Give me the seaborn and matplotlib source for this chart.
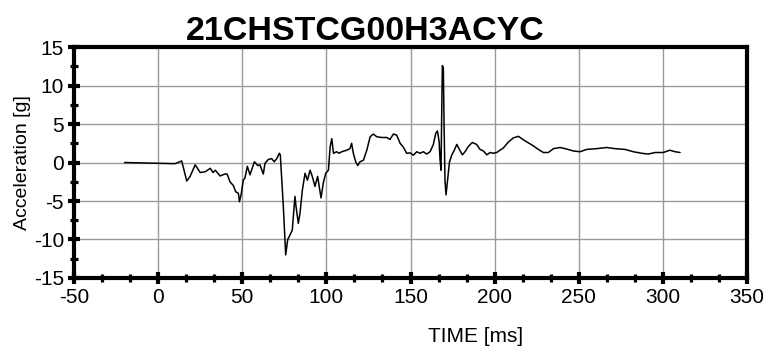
import matplotlib
matplotlib.use("Agg")
import matplotlib.pyplot as plt
from matplotlib.ticker import MultipleLocator
import seaborn as sns
import pandas as pd

title = "21CHSTCG00H3ACYC"
x_label = "TIME [ms]"
y_label = "Acceleration [g]"

time_ms = [-20, 10, 14, 17, 19, 22, 25, 28, 31, 32.6, 34, 36.8, 39.5, 41, 42.7, 44.7, 46.1,
           47.7, 48.3, 49.3, 50.6, 51.6, 53, 54.6, 57.2, 59.2, 60.5, 62.5, 63.5, 65.5, 67.5,
           69, 70.5, 72, 72.6, 74.4, 75.8, 77, 78.4, 79.7, 81.3, 82, 83.3, 84.3, 85.7, 87.3,
           88.7, 90.3, 91.6, 93.2, 94.8, 96.8, 98.2, 99.6, 101.2, 102.2, 103.2, 104.2, 106.1,
           107.5, 109.1, 112.1, 114, 115, 116, 117.4, 118.6, 120, 122, 124, 126, 127.9, 129.9,
           132.9, 135.9, 137.8, 139.8, 141.8, 143.8, 145.7, 147.7, 149.7, 151.7, 153.7, 155.6,
           157.6, 159.6, 161.6, 163.5, 165, 166, 167, 167.5, 168.1, 168.9, 169.5, 169.9, 170.5,
           171.1, 171.9, 173.1, 174.5, 176, 177.5, 178.8, 180.8, 182.4, 184.4, 186.7, 189.3,
           191.3, 193.3, 195.3, 197.3, 199.2, 201.2, 203.2, 205.2, 208.1, 211.1, 214.1, 218.1,
           222, 226, 228.9, 231.9, 234.9, 238.9, 242.8, 246.8, 250.7, 254.7, 260.6, 266.6,
           271.5, 277.5, 282.4, 287.4, 291.3, 295.3, 300.2, 304.2, 307.2, 310.2]

accel_g = [0, -0.15, 0.2, -2.4, -1.8, -0.3, -1.3, -1.2, -0.75, -1.3, -1.0, -1.75, -1.5, -1.5,
           -2.5, -3.0, -3.8, -4.0, -5.1, -4.2, -2.3, -2.0, -0.5, -1.6, 0.1, -0.4, -0.3, -1.5,
           -0.1, 0.4, 0.5, 0.1, 0.5, 1.2, 1.0, -5.7, -12.0, -10, -9.4, -8.8, -4.4, -5.8, -7.9,
           -6.6, -3.6, -1.4, -2.3, -1.0, -1.8, -3.1, -1.8, -4.6, -2.6, -1.4, -1.0, 2.0, 3.1,
           1.2, 1.4, 1.2, 1.4, 1.6, 1.8, 2.5, 1.2, 0.1, -0.4, 0.1, 0.3, 1.6, 3.35, 3.7, 3.35,
           3.25, 3.25, 3.0, 3.7, 3.55, 2.5, 2.0, 1.2, 1.25, 0.95, 1.4, 1.2, 1.4, 1.1, 1.4, 2.3,
           3.8, 4.1, 2.7, 0.5, -1.0, 12.6, 12.3, 5.3, -2.5, -4.2, -2.5, 0, 0.97, 1.6, 2.35, 1.8,
           1.0, 1.4, 2.1, 2.6, 2.35, 1.7, 1.5, 1.0, 1.3, 1.2, 1.3, 1.6, 1.9, 2.65, 3.2, 3.4,
           2.8, 2.3, 1.7, 1.3, 1.3, 1.8, 1.95, 1.75, 1.5, 1.4, 1.7, 1.8, 1.95, 1.8, 1.7, 1.4,
           1.2, 1.1, 1.3, 1.3, 1.6, 1.4, 1.3]

x_ticks = [-50, 0, 50, 100, 150, 200, 250, 300, 350]
y_ticks = [-15, -10, -5, 0, 5, 10, 15]

sns.set_theme(style="white")
plt.rcParams['font.family'] = ['Liberation Sans', 'DejaVu Sans']
plt.rcParams['axes.unicode_minus'] = False

df = pd.DataFrame({"t": time_ms, "a": accel_g})

fig = plt.figure(figsize=(7.67, 3.51), dpi=100)
ax = fig.add_axes([0.0965, 0.208, 0.8775, 0.658])

sns.lineplot(data=df, x="t", y="a", ax=ax, color="black", lw=1.1, sort=False)

ax.set_xlim(-50, 350)
ax.set_ylim(-15, 15)
ax.set_xticks(x_ticks)
ax.set_yticks(y_ticks)
ax.xaxis.set_minor_locator(MultipleLocator(50 / 3))
ax.yaxis.set_minor_locator(MultipleLocator(2.5))
ax.grid(True, which="major", color="#9a9a9a", lw=1.0)
ax.set_axisbelow(True)

for s in ax.spines.values():
    s.set_visible(True)
    s.set_color("black")
    s.set_linewidth(3.0)

ax.tick_params(which="major", direction="inout", length=8.5, width=3.0, color="black",
               labelsize=15, labelcolor="black", pad=3, bottom=True, left=True)
ax.tick_params(which="minor", direction="inout", length=6, width=2.3, color="black",
               bottom=True, left=True)

ax.set_xlabel(x_label, fontsize=15, color="black")
ax.xaxis.set_label_coords(0.596, -0.212)
ax.set_ylabel(y_label, fontsize=14, color="black", labelpad=2)
ax.set_title(title, fontsize=24.5, fontweight="bold", color="black", x=0.432, pad=3)

fig.savefig("out.png", dpi=100)
